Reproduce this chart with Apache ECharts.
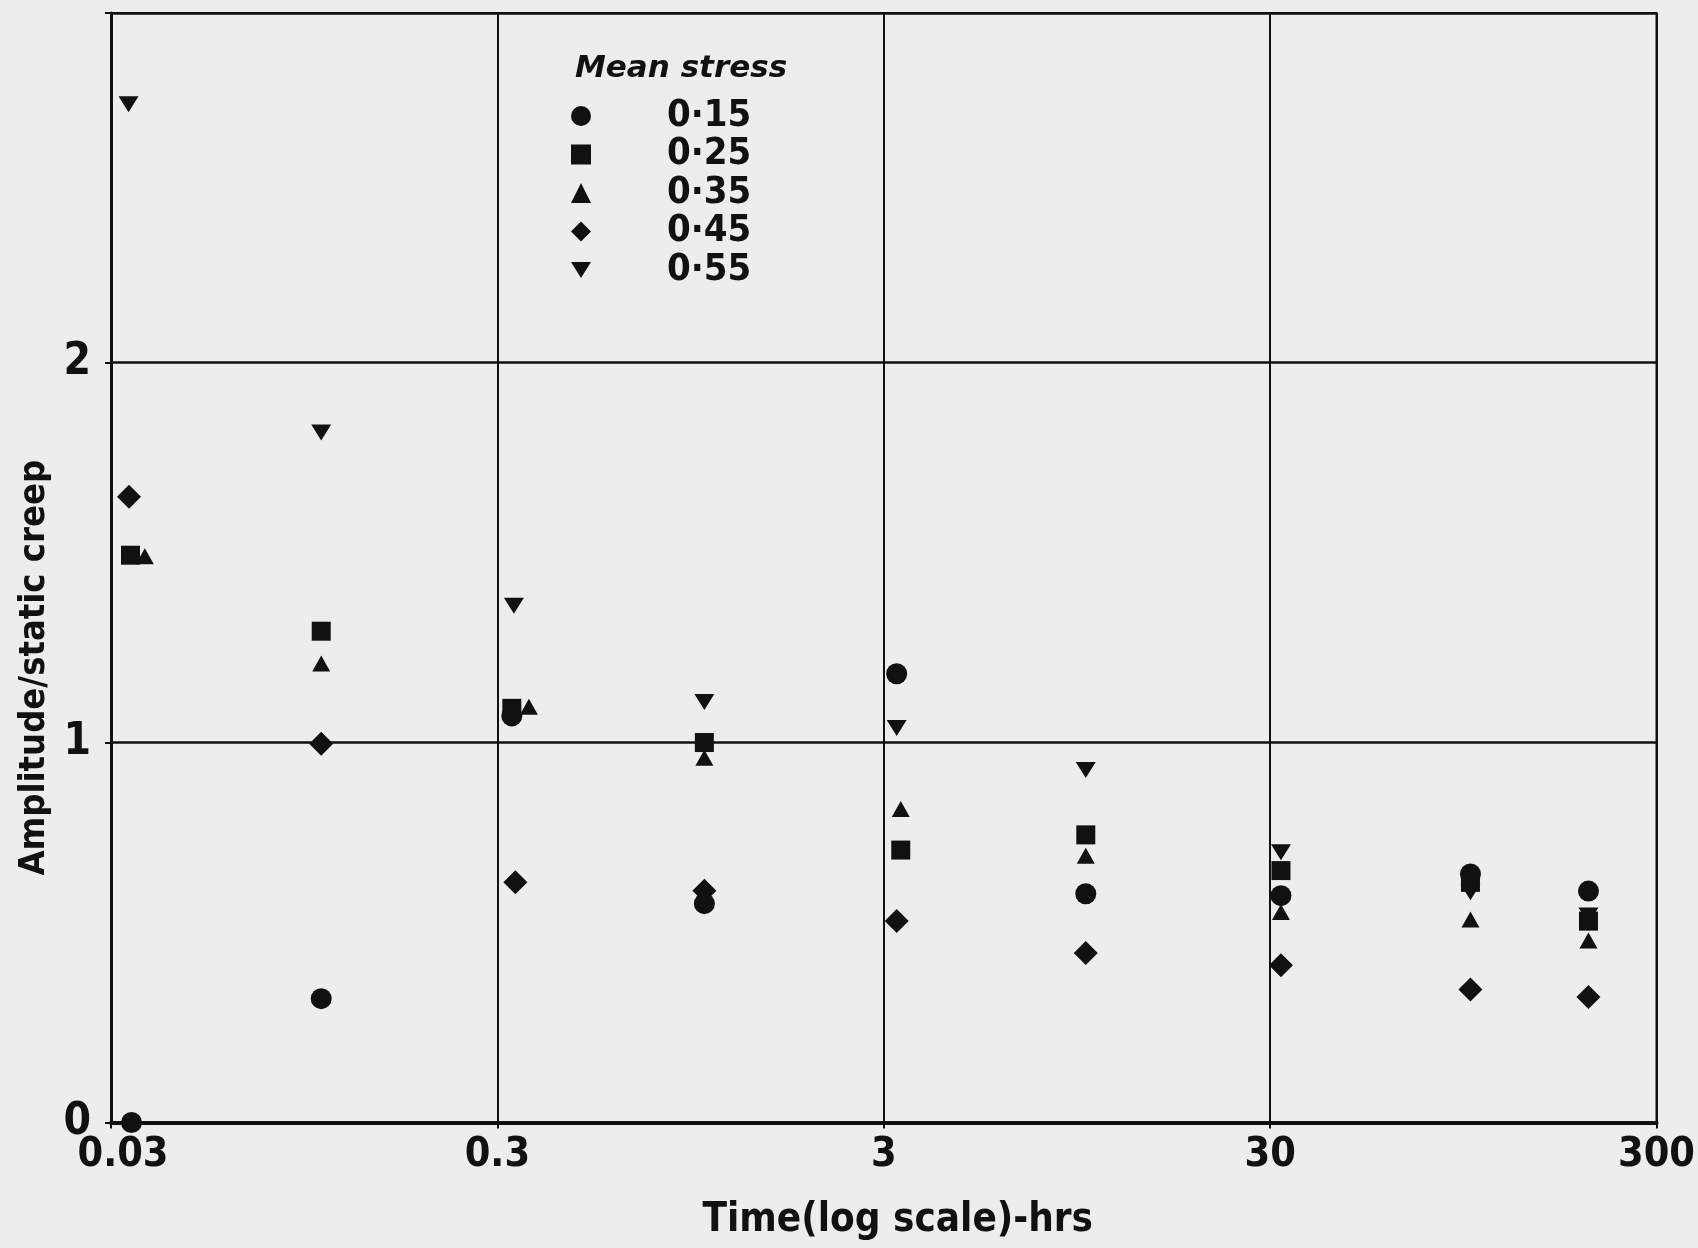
<!DOCTYPE html>
<html>
<head>
<meta charset="utf-8">
<script src="https://cdn.jsdelivr.net/npm/echarts@6/dist/echarts.min.js"></script>
<style>
html,body{margin:0;padding:0;background:#ededed;}
#chart{width:1698px;height:1248px;}
</style>
</head>
<body>
<div id="chart"></div>
<script>
// ---- data ----
const seriesNames = ['0·15', '0·25', '0·35', '0·45', '0·55'];
const xTickLabels = ['0.03', '0.3', '3', '30', '300'];
const yTicks = [0, 1, 2];

// time (hrs, log scale) and amplitude/static creep for each mean stress
const x015 = [0.0339, 0.105, 0.327, 1.03, 3.24, 10.0, 32, 99, 200];
const y015 = [0, 0.326, 1.07, 0.576, 1.181, 0.602, 0.597, 0.654, 0.609];

const x025 = [0.0337, 0.105, 0.327, 1.03, 3.32, 10.0, 32, 99, 200];
const y025 = [1.493, 1.293, 1.09, 1.0, 0.717, 0.757, 0.663, 0.632, 0.530];

const x035 = [0.0367, 0.105, 0.362, 1.03, 3.32, 10.0, 32, 99, 200];
const y035 = [1.49, 1.208, 1.094, 0.96, 0.825, 0.702, 0.554, 0.534, 0.479];

const x045 = [0.0334, 0.105, 0.334, 1.03, 3.24, 10.0, 32, 99, 200];
const y045 = [1.647, 0.997, 0.632, 0.61, 0.530, 0.446, 0.414, 0.350, 0.330];

const x055 = [0.0333, 0.105, 0.331, 1.03, 3.24, 10.0, 32, 99, 200];
const y055 = [2.68, 1.816, 1.36, 1.107, 1.038, 0.9275, 0.711, 0.606, 0.545];

// ---- build chart ----
const zip = (xs, ys) => xs.map((v, i) => [v, ys[i]]);
const ink = '#111111';
const condensed = "'DejaVu Sans Condensed', 'Liberation Sans Narrow', 'DejaVu Sans', sans-serif";

const symbols = ['circle', 'rect', 'triangle', 'diamond', 'path://M0,0 L10,0 L5,8 Z'];
const sizes = [21, 19, [18, 16], 24, [20, 16]];
const allData = [zip(x015, y015), zip(x025, y025), zip(x035, y035), zip(x045, y045), zip(x055, y055)];

const chart = echarts.init(document.getElementById('chart'), null, {renderer: 'canvas'});

const tickFont = {fontSize: 41, fontWeight: 'bold', color: ink, fontFamily: condensed};

chart.setOption({
  backgroundColor: '#ededed',
  animation: false,
  title: {
    text: 'Mean stress',
    left: 570,
    top: 48,
    textStyle: {fontSize: 31, fontStyle: 'italic', fontWeight: 'bold', color: ink, fontFamily: "'DejaVu Sans', sans-serif"}
  },
  legend: {
    orient: 'vertical',
    left: 566,
    top: 92,
    itemWidth: 20,
    itemHeight: 20,
    itemGap: 0.5,
    data: seriesNames,
    formatter: name => '{v|' + name + '}',
    textStyle: {
      color: ink,
      rich: {v: {fontSize: 38, fontWeight: 'bold', lineHeight: 40, fontFamily: condensed, color: ink, padding: [0, 0, 0, 71]}}
    }
  },
  grid: {
    left: 111, right: 37, top: 13, bottom: 125.5,
    show: true, borderColor: ink, borderWidth: 2, backgroundColor: 'transparent'
  },
  xAxis: [
    {
      type: 'log', logBase: 10, min: 0.03, max: 300, show: false, position: 'bottom'
    },
    {
      type: 'category', data: xTickLabels, boundaryGap: false, position: 'bottom',
      name: 'Time(log scale)-hrs', nameLocation: 'middle', nameGap: 78,
      nameTextStyle: {fontSize: 40, fontWeight: 'bold', color: ink, fontFamily: condensed, padding: [0, 0, 0, 28]},
      axisLine: {show: true, lineStyle: {color: ink, width: 4}},
      axisTick: {show: true, length: 6, alignWithLabel: true, lineStyle: {color: ink, width: 2}},
      axisLabel: Object.assign({}, tickFont, {
        margin: 12, interval: 0,
        formatter: (v, i) => (i === 0 ? '{f|' + v + '}' : v),
        rich: {f: Object.assign({}, tickFont, {padding: [0, 0, 0, 24]})}
      }),
      splitLine: {show: true, interval: 0, lineStyle: {color: ink, width: 2}}
    }
  ],
  yAxis: {
    type: 'value', min: 0, max: 2.92, interval: 1,
    name: 'Amplitude/static creep', nameLocation: 'middle', nameGap: 47,
    nameTextStyle: {fontSize: 36, fontWeight: 'bold', color: ink, fontFamily: condensed, padding: [0, 200, 0, 0]},
    axisLine: {show: true, lineStyle: {color: ink, width: 3}},
    axisTick: {show: true, length: 6, lineStyle: {color: ink, width: 2}},
    axisLabel: {
      fontSize: 44, fontWeight: 'bold', color: ink, fontFamily: condensed, margin: 20,
      formatter: v => (yTicks.indexOf(v) >= 0 ? String(v) : '')
    },
    splitLine: {show: true, lineStyle: {color: ink, width: 2.5}}
  },
  series: seriesNames.map((name, i) => ({
    name: name,
    type: 'scatter',
    xAxisIndex: 0,
    yAxisIndex: 0,
    symbol: symbols[i],
    symbolSize: sizes[i],
    symbolKeepAspect: false,
    itemStyle: {color: ink, opacity: 1},
    data: allData[i],
    z: 5
  }))
});
</script>
</body>
</html>
